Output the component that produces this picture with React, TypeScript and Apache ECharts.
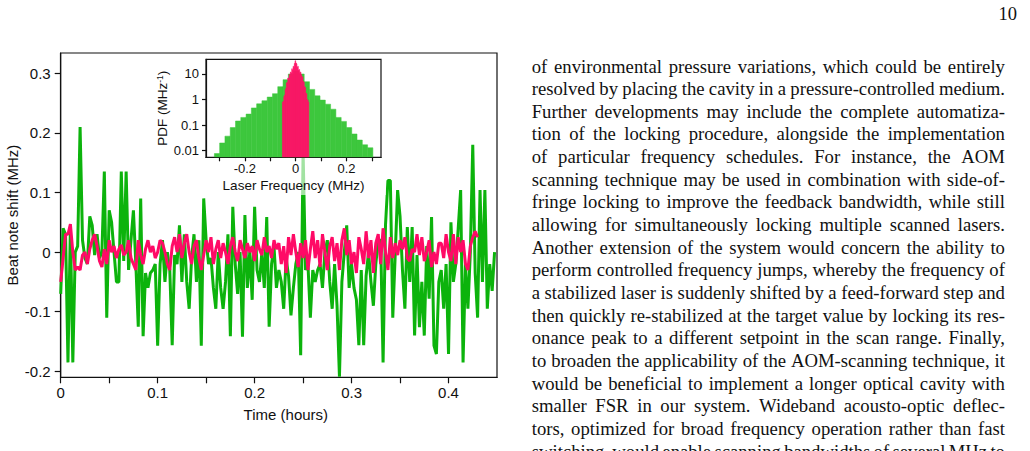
import React, { useEffect, useRef } from "react";
import * as echarts from "echarts";

// Beat-note frequency shift, sampled every SAMPLE_STEP_H hours
const SAMPLE_STEP_H = 0.0025;

// Free-running / side-locked trace (green)
const greenShift = [
  -0.07, 0.04, 0.03, -0.185, 0.04, -0.185, 0.0, 0.01, 0.21, 0.02,
  -0.01, -0.02, 0.06, 0.045, -0.005, 0.03, -0.01, 0.0, 0.135, -0.11,
  0.07, 0.05, 0.0, -0.05, -0.05, 0.135, -0.015, 0.135, -0.03, 0.02,
  0.07, -0.02, -0.125, 0.09, -0.141, -0.035, -0.06, -0.035, -0.03, -0.02,
  -0.157, -0.02, 0.02, -0.05, 0.0, -0.03, -0.156, -0.005, -0.02, 0.045,
  -0.05, 0.03, -0.05, -0.095, -0.01, 0.03, -0.05, 0.02, -0.157, 0.09,
  0.02, -0.02, -0.01, -0.06, -0.095, 0.0, -0.06, -0.095, -0.05, 0.03,
  -0.141, 0.076, -0.02, -0.07, 0.0, -0.142, 0.062, -0.06, 0.0, -0.08,
  0.076, -0.03, -0.05, 0.0, -0.06, 0.059, -0.125, -0.02, 0.01, -0.06,
  -0.03, -0.05, -0.095, -0.01, -0.04, -0.106, -0.06, -0.02, 0.0, -0.173,
  0.17, -0.03, -0.02, -0.11, -0.03, -0.05, -0.03, -0.02, -0.06, 0.0,
  0.02, -0.05, -0.095, -0.02, -0.09, -0.209, -0.05, 0.0, 0.045, -0.06,
  -0.02, -0.06, -0.08, -0.156, -0.03, -0.156, -0.04, 0.0, -0.05, -0.09,
  -0.02, 0.02, 0.02, -0.185, 0.045, 0.12, 0.12, -0.11, -0.005, 0.104,
  0.06, -0.03, -0.095, 0.042, -0.05, 0.042, -0.14, -0.005, -0.126, -0.05,
  -0.14, 0.01, -0.078, 0.059, -0.157, -0.171, -0.05, -0.03, -0.095, -0.02,
  -0.171, 0.05, -0.05, -0.02, 0.04, 0.104, -0.185, -0.02, -0.095, 0.0,
  0.18, -0.035, -0.11, 0.104, -0.05, 0.104, -0.095, -0.02, -0.065, 0.0,
];

// AOM-scanning lock trace (pink)
const pinkShift = [
  -0.05, -0.01, 0.03, 0.03, 0.047, 0.0, -0.03, -0.025, -0.03, -0.005,
  0.0, -0.02, 0.005, 0.02, 0.03, 0.01, -0.015, -0.025, 0.005, -0.02,
  0.02, 0.0, 0.01, -0.01, 0.005, 0.012, -0.005, 0.0, 0.02, -0.01,
  -0.02, -0.03, 0.02, -0.005, -0.02, 0.005, 0.02, 0.0, 0.01, -0.01,
  0.0, 0.02, 0.015, 0.0, -0.02, -0.03, 0.01, 0.025, 0.0, 0.03,
  -0.01, 0.015, 0.03, 0.0, -0.02, 0.01, 0.02, -0.01, -0.03, -0.005,
  0.02, 0.0, 0.025, -0.02, 0.005, 0.02, -0.01, 0.015, 0.0, -0.02,
  0.01, 0.025, 0.0, -0.015, 0.02, 0.005, -0.01, 0.015, 0.0, 0.01,
  -0.015, 0.02, 0.005, -0.005, 0.025, 0.0, 0.01, -0.01, 0.02, 0.005,
  0.015, -0.02, 0.01, -0.035, 0.025, -0.005, 0.03, 0.0, -0.025, 0.015,
  -0.01, 0.02, -0.03, 0.005, 0.035, -0.01, 0.02, -0.025, 0.03, 0.0,
  -0.03, 0.01, 0.025, -0.015, 0.015, -0.03, 0.02, 0.04, -0.005, 0.02,
  -0.02, 0.0, -0.035, 0.025, 0.005, -0.02, 0.035, -0.01, 0.02, -0.035,
  0.015, 0.03, -0.02, 0.04, 0.0, -0.03, 0.025, -0.01, 0.015, -0.005,
  0.02, 0.005, 0.025, -0.01, -0.015, 0.005, 0.0, 0.03, -0.005, 0.025,
  -0.015, 0.0, 0.02, -0.025, 0.0, -0.02, 0.015, 0.015, -0.01, 0.03,
  0.0, -0.015, 0.03, -0.02, 0.025, 0.0, 0.02, -0.02, -0.03, 0.01,
  0.025, 0.035, 0.025,
];

const timeTicks = [0, 0.05, 0.1, 0.15, 0.2, 0.25, 0.3, 0.35, 0.4];
const timeLabels = [0, 0.1, 0.2, 0.3, 0.4];
const shiftTicks = [-0.2, -0.1, 0, 0.1, 0.2, 0.3];

// Frequency histograms (probability density, MHz^-1)
const GREEN_BIN_START = -0.32;
const GREEN_BIN_WIDTH = 0.0208;
const greenPdf = [
  0.0077, 0.02, 0.037, 0.08, 0.145, 0.2, 0.27, 0.47, 0.68, 0.9,
  1.25, 1.7, 3.2, 6, 10, 13, 10, 5.0, 2.5, 1.4,
  0.95, 0.66, 0.42, 0.2, 0.14, 0.08, 0.045, 0.026, 0.017, 0.013,
];

const PINK_BIN_START = -0.052;
const PINK_BIN_WIDTH = 0.0026;
const pinkPdf = [
  0.8, 0.85, 1.3, 1.5, 2.4, 2.8, 4.5, 4.6, 7.0, 6.8,
  9.5, 8.8, 12, 11, 16, 14, 20, 18, 26, 33,
  27, 25, 18, 20, 14, 15, 11, 12, 9.5, 7.5,
  7.8, 5.2, 4.8, 3.2, 3.0, 1.8, 1.7, 1.0, 0.95, 0.8,
];

const freqTicks = [-0.3, -0.2, -0.1, 0, 0.1, 0.2, 0.3];
const freqLabels = [-0.2, 0, 0.2];

const bodyLines = [
  "of environmental pressure variations, which could be entirely",
  "resolved by placing the cavity in a pressure-controlled medium.",
  "Further developments may include the complete automatiza-",
  "tion of the locking procedure, alongside the implementation",
  "of particular frequency schedules.  For instance, the AOM",
  "scanning technique may be used in combination with side-of-",
  "fringe locking to improve the feedback bandwidth, while still",
  "allowing for simultaneously locking multiple scanned lasers.",
  "Another extension of the system would concern the ability to",
  "perform controlled frequency jumps, whereby the frequency of",
  "a stabilized laser is suddenly shifted by a feed-forward step and",
  "then quickly re-stabilized at the target value by locking its res-",
  "onance peak to a different setpoint in the scan range.  Finally,",
  "to broaden the applicability of the AOM-scanning technique, it",
  "would be beneficial to implement a longer optical cavity with",
  "smaller FSR in our system.  Wideband acousto-optic deflec-",
  "tors, optimized for broad frequency operation rather than fast",
  "switching, would enable scanning bandwidths of several MHz to",
];

const SANS = '"Liberation Sans", Arial, Helvetica, sans-serif';
const SERIF = '"Liberation Serif", "Times New Roman", serif';
const INK = "#111";
const GREEN_LINE = "#0cb30c";
const PINK_LINE = "#ff0a66";
const GREEN_FILL = "#3dc73d";
const PINK_FILL = "#ff1469";

const histogramItem = (fill: string) => (params: any, api: any) => {
  const left = api.coord([api.value(0), api.value(2)]);
  const right = api.coord([api.value(1), api.value(2)]);
  const cs = params.coordSys;
  const floor = cs.y + cs.height;
  return {
    type: "rect",
    shape: { x: left[0], y: left[1], width: right[0] - left[0], height: floor - left[1] },
    style: { fill, stroke: fill, lineWidth: 0.5 },
  };
};

const binRows = (start: number, width: number, pdf: number[]) =>
  pdf.map((p, i) => [start + i * width, start + (i + 1) * width, p]);

export default function App() {
  const chartRef = useRef<HTMLDivElement>(null);

  useEffect(() => {
    if (!chartRef.current) return;
    const chart = echarts.init(chartRef.current, undefined, { renderer: "svg" });
    const axisLine = { lineStyle: { color: INK, width: 1.2 } };

    chart.setOption({
      animation: false,
      backgroundColor: "#fff",
      textStyle: { fontFamily: SANS, color: INK },
      grid: [
        {
          left: 60.7, top: 53, width: 436.3, height: 324.3,
          show: true, borderColor: INK, borderWidth: 1.2, backgroundColor: "transparent",
        },
        {
          left: 206, top: 59.3, width: 175, height: 98,
          show: true, borderColor: INK, borderWidth: 1.2, backgroundColor: "#fff", z: 20,
        },
      ],
      xAxis: [
        {
          gridIndex: 0, type: "value", min: 0, max: 0.45,
          axisLine: { show: true, onZero: false, ...axisLine },
          axisTick: { show: true, customValues: timeTicks, length: 6, lineStyle: { color: INK, width: 1.2 } },
          axisLabel: { customValues: timeLabels, margin: 8, fontSize: 15, color: INK, fontFamily: SANS },
          splitLine: { show: false },
          name: "Time (hours)", nameLocation: "middle", nameGap: 30,
          nameTextStyle: { fontSize: 15, color: INK, fontFamily: SANS, padding: [0, 0, 0, 14] },
        },
        {
          gridIndex: 1, type: "value", min: -0.353, max: 0.336, z: 21,
          axisLine: { show: true, onZero: false, ...axisLine },
          axisTick: { show: true, customValues: freqTicks, length: 4, lineStyle: { color: INK, width: 1.2 } },
          axisLabel: { customValues: freqLabels, margin: 5, fontSize: 13, color: INK, fontFamily: SANS },
          splitLine: { show: false },
          name: "Laser Frequency (MHz)", nameLocation: "middle", nameGap: 21,
          nameTextStyle: { fontSize: 13.5, color: INK, fontFamily: SANS },
        },
      ],
      yAxis: [
        {
          gridIndex: 0, type: "value", min: -0.21, max: 0.334,
          axisLine: { show: true, onZero: false, ...axisLine },
          axisTick: { show: true, customValues: shiftTicks, length: 6, lineStyle: { color: INK, width: 1.2 } },
          axisLabel: { customValues: shiftTicks, margin: 10, fontSize: 15, color: INK, fontFamily: SANS },
          splitLine: { show: false },
          name: "Beat note shift (MHz)", nameLocation: "middle", nameGap: 41,
          nameTextStyle: { fontSize: 15, color: INK, fontFamily: SANS },
        },
        {
          gridIndex: 1, type: "log", logBase: 10, min: 0.0055, max: 37.6, z: 21,
          axisLine: { show: true, onZero: false, ...axisLine },
          axisTick: { show: true, length: 4, lineStyle: { color: INK, width: 1.2 } },
          axisLabel: { showMinLabel: false, showMaxLabel: false, margin: 7, fontSize: 13, color: INK, fontFamily: SANS },
          splitLine: { show: false },
          minorTick: { show: false },
          name: "PDF (MHz{sup|-1})", nameLocation: "middle", nameGap: 32,
          nameTextStyle: {
            fontSize: 13.5, color: INK, fontFamily: SANS,
            rich: { sup: { fontSize: 8.5, color: INK, fontFamily: SANS, verticalAlign: "top", padding: [0, 0, 5, 0] } },
          },
        },
      ],
      graphic: {
        elements: [
          {
            type: "rect", z: 10, silent: true,
            shape: { x: 150, y: 55, width: 236, height: 140 },
            style: { fill: "rgba(255,255,255,0.62)" },
          },
        ],
      },
      series: [
        {
          type: "line", xAxisIndex: 0, yAxisIndex: 0, z: 2,
          data: greenShift.map((v, i) => [i * SAMPLE_STEP_H, v]),
          showSymbol: false, lineStyle: { color: GREEN_LINE, width: 3 },
        },
        {
          type: "line", xAxisIndex: 0, yAxisIndex: 0, z: 3,
          data: pinkShift.map((v, i) => [i * SAMPLE_STEP_H, v]),
          showSymbol: false, lineStyle: { color: PINK_LINE, width: 3 },
        },
        {
          type: "custom", xAxisIndex: 1, yAxisIndex: 1, z: 22, clip: true,
          data: binRows(GREEN_BIN_START, GREEN_BIN_WIDTH, greenPdf),
          encode: { x: [0, 1], y: 2 },
          renderItem: histogramItem(GREEN_FILL),
        },
        {
          type: "custom", xAxisIndex: 1, yAxisIndex: 1, z: 23, clip: true,
          data: binRows(PINK_BIN_START, PINK_BIN_WIDTH, pinkPdf),
          encode: { x: [0, 1], y: 2 },
          renderItem: histogramItem(PINK_FILL),
        },
      ],
    });

    return () => chart.dispose();
  }, []);

  return (
    <div style={{ position: "absolute", left: 0, top: 0, width: 1030, height: 451, overflow: "hidden", background: "#fff" }}>
      <div ref={chartRef} style={{ position: "absolute", left: 0, top: 0, width: 1030, height: 451 }} />
      <div
        style={{
          position: "absolute", left: 900, top: 2.5, width: 117, textAlign: "right",
          fontFamily: SERIF, fontSize: 18.5, lineHeight: "22.55px", color: INK,
        }}
      >
        10
      </div>
      <div
        style={{
          position: "absolute", left: 531.7, top: 55.5, width: 473.3,
          fontFamily: SERIF, fontSize: 18.7, lineHeight: "22.65px", color: INK,
        }}
      >
        {bodyLines.map((line, i) => (
          <div key={i} style={{ display: "flex", justifyContent: "space-between", whiteSpace: "nowrap" }}>
            {line.split(/\s+/).map((w, j) => (
              <span key={j}>{w}</span>
            ))}
          </div>
        ))}
      </div>
    </div>
  );
}
